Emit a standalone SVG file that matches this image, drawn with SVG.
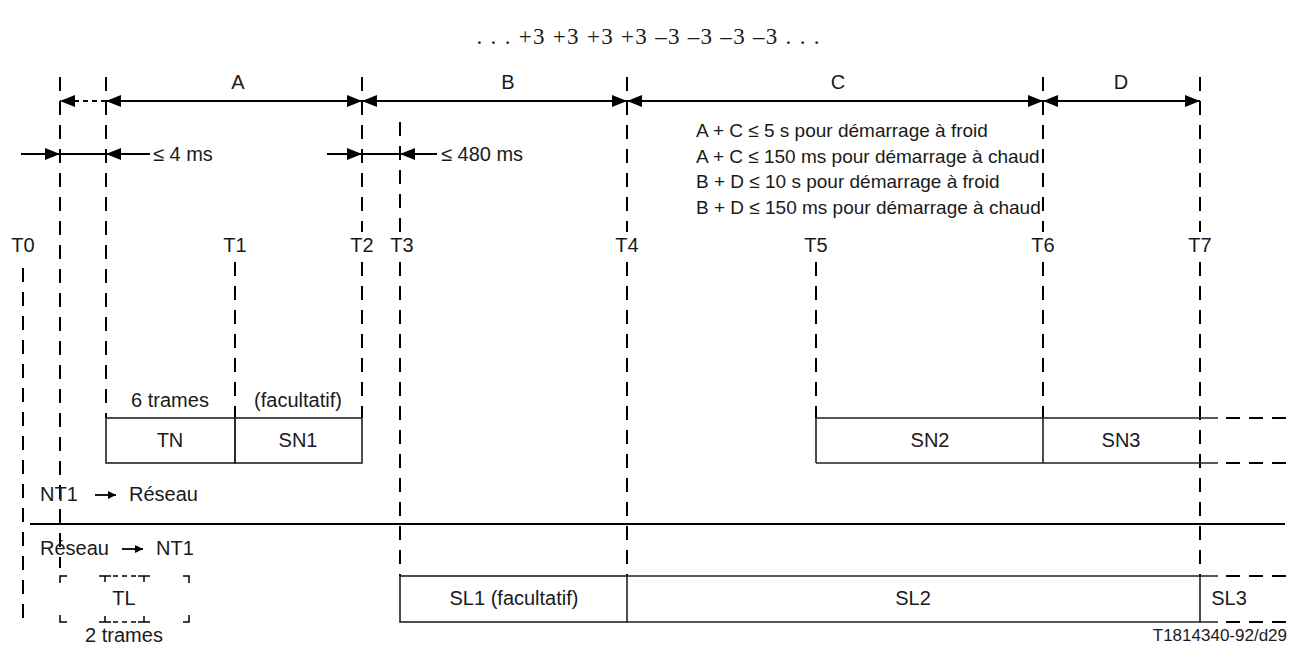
<svg xmlns="http://www.w3.org/2000/svg" width="1298" height="646" viewBox="0 0 1298 646">
<style>
.t{font-family:"Liberation Sans",Arial,sans-serif;font-size:20px;fill:#1a1a1a}
.c{font-size:19px}
.m{text-anchor:middle}
.d{stroke:#000;stroke-width:2;stroke-dasharray:14 10;fill:none}
.s{stroke:#000;stroke-width:2;fill:none}
.b{stroke:#222;stroke-width:1.6;fill:none}
.bd{stroke:#000;stroke-width:2;stroke-dasharray:14 9;fill:none}
</style>
<defs>
<marker id="ah" markerUnits="userSpaceOnUse" markerWidth="16" markerHeight="12" refX="15" refY="6" orient="auto-start-reverse"><path d="M0,0 L15,6 L0,12 z" fill="#000"/></marker>
<marker id="sa" markerUnits="userSpaceOnUse" markerWidth="9" markerHeight="8" refX="8" refY="4" orient="auto"><path d="M0,0 L8,4 L0,8 z" fill="#000"/></marker>
</defs>
<rect width="1298" height="646" fill="#fff"/>
<text x="648" y="44" font-family="Liberation Serif,'Times New Roman',serif" font-size="23" text-anchor="middle" fill="#1a1a1a" textLength="343" lengthAdjust="spacing">. . . +3 +3 +3 +3 –3 –3 –3 –3 . . .</text>
<g id="gridlines">
<path class="d" d="M23,268V622M60,77V568M106,77V418M235,262V418M362,77V232M362,262V418M400,122V232M400,262V576M627,77V232M627,262V576M816,262V418M1043,77V232M1043,262V418M1200,77V232M1200,262V576"/>
</g>
<g id="tlabels" class="t m">
<text x="23" y="252">T0</text><text x="235" y="252">T1</text><text x="362" y="252">T2</text><text x="402" y="252">T3</text><text x="627" y="252">T4</text><text x="816" y="252">T5</text><text x="1043" y="252">T6</text><text x="1200" y="252">T7</text>
</g>
<g id="connectors">
<line x1="106" y1="101" x2="60" y2="101" stroke="#000" stroke-width="2" stroke-dasharray="5 4" marker-end="url(#ah)"/>
<line x1="106" y1="101" x2="362" y2="101" class="s" marker-start="url(#ah)" marker-end="url(#ah)"/>
<line x1="362" y1="101" x2="627" y2="101" class="s" marker-start="url(#ah)" marker-end="url(#ah)"/>
<line x1="627" y1="101" x2="1043" y2="101" class="s" marker-start="url(#ah)" marker-end="url(#ah)"/>
<line x1="1043" y1="101" x2="1200" y2="101" class="s" marker-start="url(#ah)" marker-end="url(#ah)"/>
<line x1="21" y1="154" x2="60" y2="154" class="s" marker-end="url(#ah)"/>
<line x1="60" y1="154" x2="106" y2="154" class="s"/>
<line x1="150" y1="154" x2="106" y2="154" class="s" marker-end="url(#ah)"/>
<line x1="327" y1="154" x2="362" y2="154" class="s" marker-end="url(#ah)"/>
<line x1="362" y1="154" x2="400" y2="154" class="s"/>
<line x1="437" y1="154" x2="400" y2="154" class="s" marker-end="url(#ah)"/>
<line x1="30" y1="524" x2="1285" y2="524" class="s"/>
<line x1="95" y1="495" x2="116" y2="495" stroke="#000" stroke-width="1.8" marker-end="url(#sa)"/>
<line x1="122" y1="549" x2="143" y2="549" stroke="#000" stroke-width="1.8" marker-end="url(#sa)"/>
</g>
<g id="dimlabels" class="t">
<text x="238" y="89" class="m">A</text>
<text x="508" y="89" class="m">B</text>
<text x="838" y="89" class="m">C</text>
<text x="1121" y="89" class="m">D</text>
<text x="153" y="161">≤ 4 ms</text>
<text x="441" y="161">≤ 480 ms</text>
</g>
<g id="conditions" class="t c">
<text x="696" y="137">A + C ≤ 5 s pour démarrage à froid</text>
<text x="696" y="163">A + C ≤ 150 ms pour démarrage à chaud</text>
<text x="696" y="188">B + D ≤ 10 s pour démarrage à froid</text>
<text x="696" y="214">B + D ≤ 150 ms pour démarrage à chaud</text>
</g>
<g id="TN">
<rect x="106" y="418" width="129" height="45" class="b"/>
<text x="170" y="407" class="t m">6 trames</text>
<text x="170" y="447" class="t m">TN</text>
</g>
<g id="SN1">
<rect x="235" y="418" width="127" height="45" class="b"/>
<text x="298" y="407" class="t m">(facultatif)</text>
<text x="298" y="447" class="t m">SN1</text>
</g>
<g id="SN2">
<path class="b" d="M816,418V463M816,418H1043M816,463H1043"/>
<text x="930" y="447" class="t m">SN2</text>
</g>
<g id="SN3">
<path class="b" d="M1043,418V463M1043,418H1218M1043,463H1218"/>
<path class="bd" d="M1226,418H1292M1226,463H1292"/>
<text x="1121" y="447" class="t m">SN3</text>
</g>
<g id="dir1"><text x="40" y="501" class="t">NT1</text><text x="129" y="501" class="t">Réseau</text></g>
<g id="dir2"><text x="40" y="555" class="t">Réseau</text><text x="156" y="555" class="t">NT1</text></g>
<g id="TL">
<path stroke="#000" stroke-width="1.5" fill="none" d="M60,583V576H67M99,576H111M105,576V582M138,576H150M144,576V582M183,576H189V583M60,615V622H67M99,622H111M105,622V616M138,622H150M144,622V616M183,622H189V615"/>
<path stroke="#000" stroke-width="1.5" fill="none" stroke-dasharray="5 4" d="M113,576H138M113,622H138"/>
<text x="124" y="605" class="t m">TL</text>
<text x="124" y="642" class="t m">2 trames</text>
</g>
<g id="SL1">
<rect x="400" y="576" width="227" height="46" class="b"/>
<text x="514" y="605" class="t m">SL1 (facultatif)</text>
</g>
<g id="SL2">
<path class="b" d="M627,576H1200M627,622H1200M1200,576V622"/>
<text x="913" y="605" class="t m">SL2</text>
</g>
<g id="SL3">
<path class="b" d="M1200,576H1218M1200,622H1218"/>
<path class="bd" d="M1226,576H1292M1226,622H1292"/>
<text x="1229" y="605" class="t m">SL3</text>
</g>
<text x="1287" y="641" class="t" text-anchor="end" style="font-size:17px">T1814340-92/d29</text>
</svg>
